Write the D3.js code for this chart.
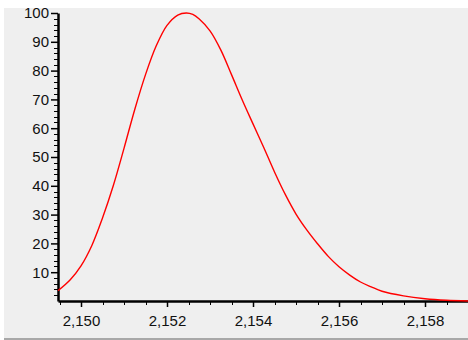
<!DOCTYPE html>
<html>
<head>
<meta charset="utf-8">
<script src="https://cdn.jsdelivr.net/npm/d3@7"></script>
<style>
  body { margin: 0; background: #fff; }
  svg { display: block; font-family: "Liberation Sans", Arial, sans-serif; }
</style>
</head>
<body>
<div id="chart"></div>
<script>
// values (x, relative intensity)
const xs = [2149.465, 2149.75, 2150.0, 2150.25, 2150.5, 2150.75, 2151.0, 2151.25, 2151.5, 2151.75,
  2152.0, 2152.25, 2152.45, 2152.6, 2152.75, 2153.0, 2153.25, 2153.5, 2153.75, 2154.0, 2154.25,
  2154.5, 2154.75, 2155.0, 2155.25, 2155.5, 2155.75, 2156.0, 2156.25, 2156.5, 2156.75, 2157.0,
  2157.5, 2158.0, 2158.5, 2159.0];
const ys = [3.6, 7.4, 12.2, 19.2, 28.8, 40.0, 53.0, 66.5, 78.6, 88.6,
  95.7, 99.3, 100, 99.5, 97.9, 93.8, 87.2, 78.6, 69.8, 61.5, 53.3,
  44.8, 37.0, 30.2, 24.7, 19.9, 15.5, 11.9, 9.0, 6.6, 4.9, 3.4,
  1.8, 0.8, 0.25, 0.0];
const xTicks = [2150, 2152, 2154, 2156, 2158];
const yTicks = [10, 20, 30, 40, 50, 60, 70, 80, 90, 100];

const W = 468, H = 340;
const svg = d3.select("#chart").append("svg")
  .attr("width", W)
  .attr("height", H);

// grey panel
svg.append("rect")
  .attr("x", 4).attr("y", 8)
  .attr("width", W - 4).attr("height", 330)
  .attr("fill", "#efefef");
svg.append("rect")
  .attr("x", 4).attr("y", 338)
  .attr("width", W - 4).attr("height", 2)
  .attr("fill", "#a8a8a8");

const x = d3.scaleLinear().domain([2149.465, 2159.0]).range([58, 468]);
const y = d3.scaleLinear().domain([0, 100]).range([301, 13]);

// minor ticks
const gMinor = svg.append("g").attr("stroke", "#000").attr("stroke-width", 1);
gMinor.selectAll("line.ym")
  .data(d3.range(2, 101, 2).filter(v => v % 10 !== 0))
  .enter().append("line")
  .attr("x1", 54).attr("x2", 58)
  .attr("y1", d => Math.round(y(d)) + 0.5)
  .attr("y2", d => Math.round(y(d)) + 0.5);
gMinor.selectAll("line.xm")
  .data(d3.range(2149.5, 2159.01, 0.5).filter(v => Math.abs(v % 2) > 0.01))
  .enter().append("line")
  .attr("y1", 301).attr("y2", 305)
  .attr("x1", d => Math.round(x(d)) + 0.5)
  .attr("x2", d => Math.round(x(d)) + 0.5);

// y axis
const yAxis = svg.append("g")
  .attr("transform", "translate(58,0)")
  .call(d3.axisLeft(y).tickValues(yTicks).tickSize(7).tickPadding(2).tickSizeOuter(0));
yAxis.select(".domain").attr("stroke-width", 2.5);
yAxis.selectAll(".tick line").attr("stroke-width", 1.5);
yAxis.selectAll("text").attr("font-size", 15).attr("fill", "#111").attr("font-family", "Liberation Sans, Arial, sans-serif");

// x axis
const xAxis = svg.append("g")
  .attr("transform", "translate(0,301)")
  .call(d3.axisBottom(x).tickValues(xTicks).tickSize(6).tickPadding(8).tickSizeOuter(0)
    .tickFormat(d3.format(",")));
xAxis.select(".domain").attr("stroke-width", 2.5);
xAxis.selectAll(".tick line").attr("stroke-width", 1.5);
xAxis.selectAll("text").attr("font-size", 15).attr("fill", "#111").attr("font-family", "Liberation Sans, Arial, sans-serif");

// spectrum line
const pts = xs.map((v, i) => [v, ys[i]]);
svg.append("path")
  .datum(pts)
  .attr("fill", "none")
  .attr("stroke", "#ff0000")
  .attr("stroke-width", 1.4)
  .attr("d", d3.line()
    .x(d => x(d[0]))
    .y(d => y(d[1]))
    .curve(d3.curveCatmullRom));
</script>
</body>
</html>
